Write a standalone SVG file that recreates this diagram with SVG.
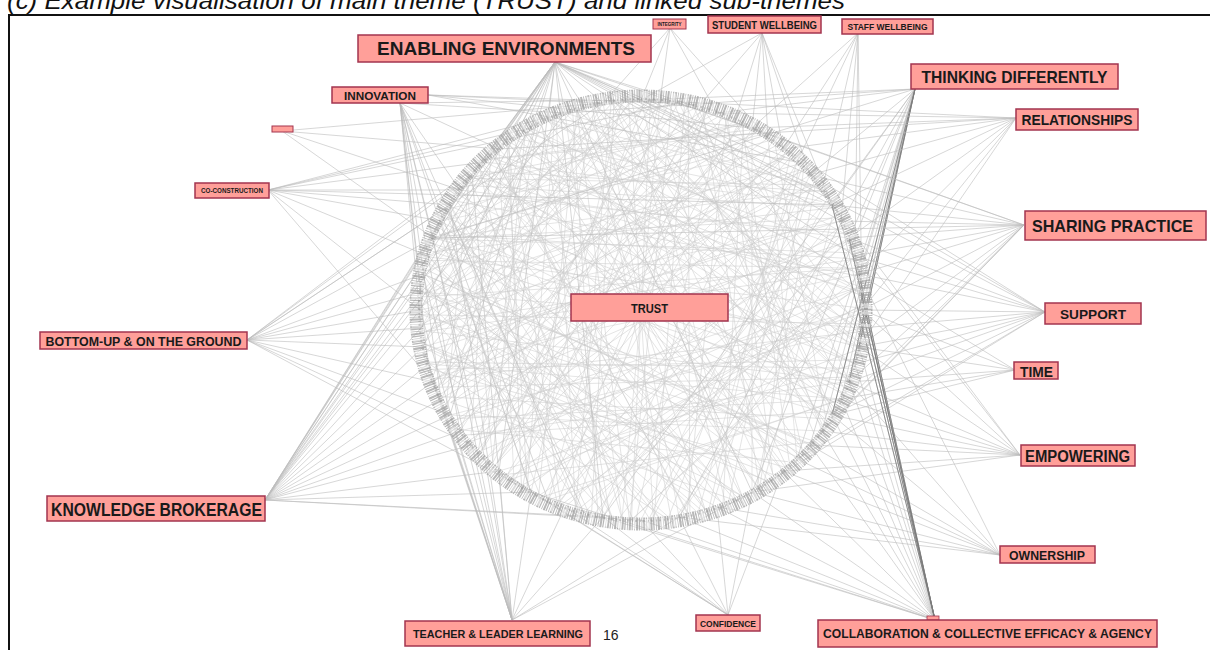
<svg xmlns="http://www.w3.org/2000/svg" xmlns:xlink="http://www.w3.org/1999/xlink" width="1210" height="650" viewBox="0 0 1210 650">
<style>
.node rect{fill:#ff9f99;stroke:#a3344f;stroke-width:1.5}
.node text{font-family:"Liberation Sans",Arial,Helvetica,sans-serif;font-weight:bold;fill:#1a1a1a;text-anchor:middle}
.fan{fill:none;stroke:#bcbcbc;stroke-width:0.6}
.dark{stroke:#7a7a7a;stroke-width:0.8}
.chord{fill:none;stroke:#cdcdcd;stroke-width:0.5}
</style>
<defs>
<path id="chords" class="chord" d="M862 310L450 415M859 347L433 238M849 382L565 113M832 415L679 103M810 445L423 274M783 471L499 149M752 492L752 128M717 507L423 347M679 517L603 103M641 520L810 175M603 517L450 205M565 507L855 256M531 492L622 101M499 471L855 364M472 445L660 101M450 415L822 431M433 382L735 120M423 347L841 221M420 310L768 482M423 274L584 513M433 238L822 190M450 205L660 519M472 175L797 459M499 149L514 482M531 128L861 292M565 113L622 519M603 103L421 328M641 100L735 500M679 103L460 431M717 113L428 256M752 128L548 500M783 149L441 221M810 175L441 399M832 205L485 162M849 238L485 459M859 274L548 120M861 328L421 292M855 364L514 138M841 399L428 364M822 431L698 107M797 459L768 138M768 482L584 107M735 500L460 190M698 513L797 162M660 519L428 256M622 519L660 101M584 513L849 238M548 500L841 399M514 482L698 107M485 459L783 149M460 431L861 328M441 399L603 103M428 364L859 274M421 328L531 128M421 292L832 415M428 256L698 513M441 221L531 492M460 190L849 238M485 162L859 347M514 138L622 519M548 120L783 471M584 107L460 431M622 101L421 292M660 101L548 500M698 107L441 221M735 120L849 382M768 138L433 382M797 162L603 517M822 190L565 113M841 221L420 310M855 256L679 517M861 292L472 175"/>
</defs>
<rect x="0" y="0" width="1210" height="650" fill="#ffffff"/>
<text x="7" y="9" font-family="Liberation Sans,Arial,sans-serif" font-style="italic" font-size="23" fill="#111" textLength="838" lengthAdjust="spacingAndGlyphs">(c) Example visualisation of main theme (TRUST) and linked sub-themes</text>
<path d="M9 650V15H1210" fill="none" stroke="#111" stroke-width="2"/>
<g id="connectors">
<use xlink:href="#chords"/>
<use xlink:href="#chords" transform="rotate(13 641 310)"/>
<use xlink:href="#chords" transform="rotate(-23 641 310)"/>
<use xlink:href="#chords" transform="rotate(38 641 310)"/>
<path class="fan" d="M555 62L423 347M555 62L420 310M555 62L423 274M555 62L433 238M555 62L450 205M555 62L472 175M555 62L499 149M555 62L531 128M555 62L565 113M555 62L603 103M555 62L641 100M555 62L698 107M555 62L752 128M555 62L797 162M555 62L832 205M555 62L855 256M555 62L450 415M555 62L499 471M555 62L603 517M555 62L752 492M555 62L441 221M555 62L460 190M555 62L485 162M555 62L514 138M555 62L548 120M555 62L584 107M555 62L841 221M555 62L822 190M555 62L810 175"/>
<path class="fan" d="M400 103L531 492M400 103L485 459M400 103L460 431M400 103L441 399M400 103L428 364M400 103L421 328M400 103L421 292M400 103L433 238M400 103L460 190M400 103L499 149M400 103L565 113M400 103L641 100M400 103L584 513M400 103L548 500M428 95L603 103M428 95L679 103M428 95L752 128M428 95L797 162"/>
<path class="fan" d="M670 28L603 103M670 28L660 101M670 28L717 113M670 28L768 138M670 28L641 100"/>
<path class="fan" d="M762 33L641 100M762 33L698 107M762 33L752 128M762 33L783 149M762 33L810 175M762 33L832 205M762 33L768 138M762 33L735 120"/>
<path class="fan" d="M858 33L752 128M858 33L797 162M858 33L822 190M858 33L841 221M858 33L855 256M858 33L862 310M858 33L783 149"/>
<path class="fan" d="M915 89L810 175M915 89L832 205M915 89L849 238M915 89L859 274M915 89L862 310M915 89L859 347M915 89L849 382M915 89L832 415M915 89L810 445M915 89L752 492M915 89L679 517M915 89L603 517M915 89L433 238M915 89L565 113M915 89L641 100M915 89L717 113M915 89L855 364M915 89L841 399M915 89L822 431M915 89L797 459"/>
<path class="fan dark" d="M915 89L849 382M915 89L832 415M915 89L859 347"/>
<path class="fan" d="M1016 118L783 149M1016 118L810 175M1016 118L832 205M1016 118L849 238M1016 118L859 274M1016 118L862 310M1016 118L859 347M1016 118L641 100M1016 118L499 149M1016 118L717 113M1016 118L752 128"/>
<path class="fan" d="M1024 225L832 205M1024 225L849 238M1024 225L859 274M1024 225L862 310M1024 225L859 347M1024 225L849 382M1024 225L832 415M1024 225L810 445M1024 225L783 471M1024 225L679 103M1024 225L752 128M1024 225L433 238M1024 225L810 175M1024 225L841 221M1024 225L855 256"/>
<path class="fan" d="M1045 312L849 238M1045 312L859 274M1045 312L862 310M1045 312L861 328M1045 312L859 347M1045 312L849 382M1045 312L832 415M1045 312L797 459M1045 312L752 492M1045 312L641 100M1045 312L752 128M1045 312L810 175M1045 312L855 256M1045 312L855 364"/>
<path class="fan" d="M1015 370L862 310M1015 370L859 347M1015 370L849 382M1015 370L832 415M1015 370L859 274M1015 370L841 399"/>
<path class="fan" d="M1020 455L862 310M1020 455L859 347M1020 455L849 382M1020 455L832 415M1020 455L810 445M1020 455L783 471M1020 455L752 492M1020 455L849 238M1020 455L810 175M1020 455L841 399M1020 455L822 431"/>
<path class="fan" d="M1000 555L849 382M1000 555L832 415M1000 555L810 445M1000 555L783 471M1000 555L752 492M1000 555L717 507M1000 555L679 517M1000 555L859 274M1000 555L797 459"/>
<path class="fan" d="M935 620L832 205M935 620L849 238M935 620L859 274M935 620L862 310M935 620L859 347M935 620L849 382M935 620L832 415M935 620L810 445M935 620L783 471M935 620L752 492M935 620L717 507M935 620L679 517M935 620L641 520M935 620L603 517M935 620L531 492M935 620L841 221M935 620L855 256M935 620L861 292M935 620L855 364M935 620L841 399M935 620L822 431"/>
<path class="fan dark" d="M935 620L862 310M935 620L859 274M935 620L849 238M935 620L832 205M935 620L861 292"/>
<path class="fan" d="M728 615L752 492M728 615L717 507M728 615L679 517M728 615L641 520M728 615L603 517M728 615L565 507M728 615L531 492M728 615L499 471M728 615L783 471"/>
<path class="fan" d="M512 620L603 517M512 620L565 507M512 620L531 492M512 620L499 471M512 620L472 445M512 620L450 415M512 620L433 382M512 620L423 347M512 620L420 310M512 620L423 274M512 620L433 238M512 620L450 205M512 620L472 175M512 620L752 492M512 620L679 517M512 620L441 399M512 620L428 364M512 620L485 459"/>
<path class="fan" d="M265 500L531 492M265 500L499 471M265 500L472 445M265 500L450 415M265 500L433 382M265 500L423 347M265 500L420 310M265 500L423 274M265 500L433 238M265 500L450 205M265 500L472 175M265 500L499 149M265 500L531 128M265 500L565 113M265 500L641 520M265 500L603 517M265 500L460 431M265 500L441 399M265 500L428 364M265 500L421 328M265 500L421 292M265 500L428 256M265 500L441 221"/>
<path class="fan" d="M247 340L450 415M247 340L433 382M247 340L423 347M247 340L420 310M247 340L423 274M247 340L433 238M247 340L450 205M247 340L472 175M247 340L499 149M247 340L472 445M247 340L603 103M247 340L531 492M247 340L421 328M247 340L421 292"/>
<path class="fan" d="M268 190L433 382M268 190L420 310M268 190L428 256M268 190L450 205M268 190L485 162M268 190L531 128M268 190L603 103M268 190L679 103M268 190L441 221M268 190L460 190M268 190L832 205"/>
<path class="fan" d="M282 131L433 238M282 131L499 149M282 131L603 103M282 131L460 190"/>
</g>
<g id="ring">
<ellipse cx="641" cy="310" rx="225" ry="214" fill="none" stroke="#a6a6a6" stroke-width="13" stroke-dasharray="1.2 0.8 2 1 0.8 1.4" opacity="0.8"/>
<ellipse cx="641" cy="310" rx="225" ry="214" fill="none" stroke="#ffffff" stroke-width="10" stroke-dasharray="5 9 3 11" opacity="0.5"/>
<ellipse cx="641" cy="310" rx="222" ry="211" fill="none" stroke="#8a8a8a" stroke-width="2" stroke-dasharray="2 2 1 3" opacity="0.4"/>
</g>
<g id="n-enabling" class="node"><rect x="358" y="35" width="293" height="27"/><text x="506" y="55" font-size="18.5" textLength="258" lengthAdjust="spacingAndGlyphs">ENABLING ENVIRONMENTS</text></g>
<g id="n-innovation" class="node"><rect x="332" y="87" width="96" height="16"/><text x="380" y="99.5" font-size="11.5" textLength="72" lengthAdjust="spacingAndGlyphs">INNOVATION</text></g>
<g id="n-integrity" class="node"><rect x="653" y="19" width="33" height="10" style="stroke-width:1"/><text x="669.5" y="26.3" font-size="5.5" textLength="24" lengthAdjust="spacingAndGlyphs">INTEGRITY</text></g>
<g id="n-student" class="node"><rect x="708" y="16" width="113" height="17"/><text x="764.5" y="28.5" font-size="11" textLength="105" lengthAdjust="spacingAndGlyphs">STUDENT WELLBEING</text></g>
<g id="n-staff" class="node"><rect x="842" y="19" width="91" height="15"/><text x="887.5" y="30" font-size="9" textLength="80" lengthAdjust="spacingAndGlyphs">STAFF WELLBEING</text></g>
<g id="n-thinking" class="node"><rect x="911" y="64" width="207" height="25"/><text x="1014.5" y="83" font-size="17" textLength="186" lengthAdjust="spacingAndGlyphs">THINKING DIFFERENTLY</text></g>
<g id="n-relationships" class="node"><rect x="1016" y="109" width="122" height="21"/><text x="1077" y="124.5" font-size="14" textLength="111" lengthAdjust="spacingAndGlyphs">RELATIONSHIPS</text></g>
<g id="n-tiny" class="node"><rect x="272" y="126" width="21" height="6" style="stroke-width:1"/></g>
<g id="n-coconstruction" class="node"><rect x="195" y="183" width="74" height="15"/><text x="232" y="193" font-size="7.5" textLength="62" lengthAdjust="spacingAndGlyphs">CO-CONSTRUCTION</text></g>
<g id="n-sharing" class="node"><rect x="1025" y="211" width="181" height="29"/><text x="1112.5" y="232" font-size="17" textLength="161" lengthAdjust="spacingAndGlyphs">SHARING PRACTICE</text></g>
<g id="n-trust" class="node"><rect x="571" y="294" width="157" height="27"/><text x="649.5" y="313" font-size="12" textLength="37" lengthAdjust="spacingAndGlyphs">TRUST</text></g>
<g id="n-support" class="node"><rect x="1045" y="303" width="96" height="21"/><text x="1093" y="319" font-size="13.5" textLength="66" lengthAdjust="spacingAndGlyphs">SUPPORT</text></g>
<g id="n-bottomup" class="node"><rect x="40" y="332" width="207" height="17"/><text x="143.5" y="346" font-size="13" textLength="196" lengthAdjust="spacingAndGlyphs">BOTTOM-UP &amp; ON THE GROUND</text></g>
<g id="n-time" class="node"><rect x="1014" y="362" width="44" height="17"/><text x="1036.5" y="376.5" font-size="14" textLength="33" lengthAdjust="spacingAndGlyphs">TIME</text></g>
<g id="n-empowering" class="node"><rect x="1021" y="445" width="114" height="21"/><text x="1077.5" y="461.5" font-size="16" textLength="105" lengthAdjust="spacingAndGlyphs">EMPOWERING</text></g>
<g id="n-knowledge" class="node"><rect x="47" y="496" width="218" height="25"/><text x="156.5" y="516" font-size="18" textLength="211" lengthAdjust="spacingAndGlyphs">KNOWLEDGE BROKERAGE</text></g>
<g id="n-ownership" class="node"><rect x="1000" y="546" width="95" height="17"/><text x="1047" y="559.5" font-size="12.5" textLength="76" lengthAdjust="spacingAndGlyphs">OWNERSHIP</text></g>
<g id="n-teacher" class="node"><rect x="405" y="621" width="185" height="25"/><text x="498" y="637.5" font-size="11" textLength="170" lengthAdjust="spacingAndGlyphs">TEACHER &amp; LEADER LEARNING</text></g>
<g id="n-confidence" class="node"><rect x="696" y="615" width="64" height="16"/><text x="728" y="627" font-size="9" textLength="56" lengthAdjust="spacingAndGlyphs">CONFIDENCE</text></g>
<g id="n-tab" class="node"><rect x="927" y="616" width="12" height="4" style="stroke-width:0.8"/></g>
<g id="n-collab" class="node"><rect x="818" y="620" width="339" height="27"/><text x="987.5" y="638" font-size="13.5" textLength="329" lengthAdjust="spacingAndGlyphs">COLLABORATION &amp; COLLECTIVE EFFICACY &amp; AGENCY</text></g>
<text x="603" y="640" font-family="Liberation Sans,Arial,sans-serif" font-size="14" fill="#222">16</text>
</svg>
